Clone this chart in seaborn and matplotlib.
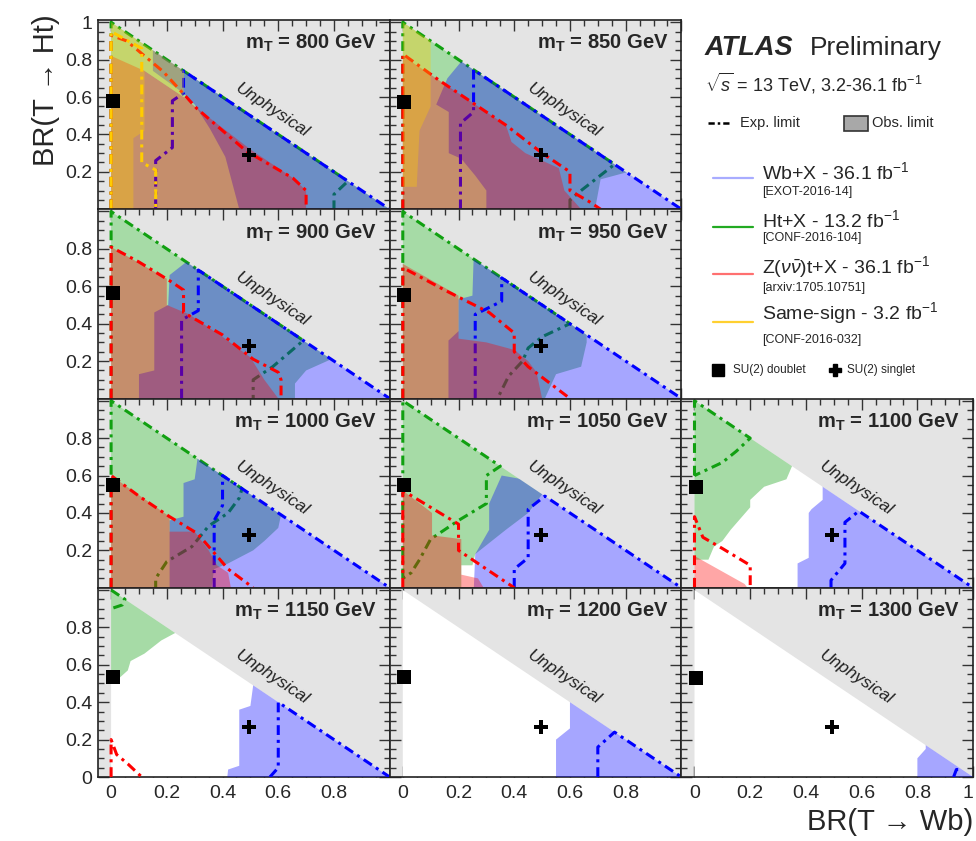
import matplotlib
matplotlib.use("Agg")
import matplotlib.pyplot as plt
import seaborn as sns
from matplotlib.patches import Polygon, Rectangle
from matplotlib.lines import Line2D
from matplotlib.ticker import MultipleLocator, FixedLocator, FuncFormatter

# ---------------- data ----------------
MASSES = [800, 850, 900, 950, 1000, 1050, 1100, 1150, 1200, 1300]
DOUBLET_X = 0.006
DOUBLET_Y = [0.58, 0.575, 0.565, 0.556, 0.55, 0.55, 0.54, 0.536, 0.536, 0.53]
SINGLET_X = 0.495
SINGLET_Y = [0.29, 0.29, 0.28, 0.28, 0.283, 0.28, 0.28, 0.27, 0.27, 0.265]

# Observed excluded regions (polygon vertices, clipped to the physical triangle)
HT_OBS = {
    800: [(-0.1, -0.1), (1.3, -0.1), (-0.1, 1.3)],
    850: [(-0.1, -0.1), (0.69, -0.1), (0.69, 0), (0.71, 0.16), (0.81, 0.2), (0.81, 1.3), (-0.1, 1.3)],
    900: [(-0.1, -0.1), (0.66, -0.1), (0.66, 0.08), (0.7, 0.15), (0.79, 0.21), (0.79, 1.3), (-0.1, 1.3)],
    950: [(-0.1, -0.1), (0.51, -0.1), (0.51, 0), (0.55, 0.13), (0.64, 0.17), (0.66, 0.3), (0.66, 1.3), (-0.1, 1.3)],
    1000: [(-0.1, -0.1), (0.36, -0.1), (0.36, 0), (0.37, 0.1), (0.42, 0.13), (0.51, 0.2), (0.55, 0.25),
           (0.6, 0.32), (0.61, 0.39), (0.61, 1.3), (-0.1, 1.3)],
    1050: [(-0.1, -0.1), (0.21, -0.1), (0.21, 0.12), (0.25, 0.12), (0.26, 0.18), (0.37, 0.31), (0.45, 0.4),
           (0.5, 0.5), (0.5, 1.3), (-0.1, 1.3)],
    1100: [(-0.1, 0.15), (0.05, 0.15), (0.07, 0.22), (0.1, 0.25), (0.13, 0.31), (0.2, 0.43), (0.2, 0.47),
           (0.25, 0.54), (0.33, 0.58), (0.35, 0.65), (0.35, 1.3), (-0.1, 1.3)],
    1150: [(-0.1, 0.52), (0.03, 0.53), (0.06, 0.57), (0.07, 0.62), (0.12, 0.66), (0.18, 0.73), (0.23, 0.77),
           (0.23, 1.3), (-0.1, 1.3)],
}
WB_OBS = {
    800: [(0.15, 1.3), (0.15, 0.74), (0.26, 0.62), (0.3, 0.56), (0.355, 0.43), (0.41, 0.28), (0.46, 0),
          (0.46, -0.1), (1.3, -0.1), (1.3, 1.3)],
    850: [(0.21, 1.3), (0.21, 0.79), (0.16, 0.7), (0.12, 0.56), (0.165, 0.52), (0.165, 0.3), (0.21, 0.27),
          (0.26, 0.18), (0.3, 0.1), (0.3, -0.1), (1.3, -0.1), (1.3, 1.3)],
    900: [(0.27, 1.3), (0.27, 0.73), (0.21, 0.66), (0.205, 0.5), (0.155, 0.46), (0.155, 0.15), (0.1, 0.13),
          (0.1, -0.1), (1.3, -0.1), (1.3, 1.3)],
    950: [(0.254, 1.3), (0.254, 0.74), (0.25, 0.55), (0.2, 0.53), (0.2, 0.36), (0.164, 0.31), (0.164, -0.1),
          (1.3, -0.1), (1.3, 1.3)],
    1000: [(0.31, 1.3), (0.31, 0.69), (0.3, 0.58), (0.26, 0.56), (0.26, 0.38), (0.21, 0.36), (0.21, -0.1),
           (1.3, -0.1), (1.3, 1.3)],
    1050: [(0.255, -0.1), (0.255, 0), (0.26, 0.18), (0.31, 0.31), (0.31, 0.45), (0.355, 0.6), (0.43, 0.58),
           (0.48, 0.54), (0.52, 0.5), (0.52, 1.3), (1.3, 1.3), (1.3, -0.1)],
    1100: [(0.37, -0.1), (0.37, 0.13), (0.41, 0.16), (0.41, 0.4), (0.42, 0.42), (0.46, 0.47), (0.46, 1.3),
           (1.3, 1.3), (1.3, -0.1)],
    1150: [(0.41, -0.1), (0.42, 0.04), (0.46, 0.06), (0.46, 0.36), (0.5, 0.38), (0.51, 0.49), (0.51, 1.3),
           (1.3, 1.3), (1.3, -0.1)],
    1200: [(0.55, -0.1), (0.55, 0.2), (0.6, 0.26), (0.6, 1.3), (1.3, 1.3), (1.3, -0.1)],
    1300: [(0.8, -0.1), (0.8, 0.1), (0.83, 0.15), (0.83, 1.3), (1.3, 1.3), (1.3, -0.1)],
}
ZT_OBS = {
    800: [(-0.1, -0.1), (-0.1, 0.82), (0, 0.82), (0.12, 0.74), (0.26, 0.6), (0.3, 0.55), (0.5, 0.32),
          (0.65, 0.17), (0.7, 0.1), (0.7, -0.1)],
    850: [(-0.1, -0.1), (-0.1, 0.82), (0, 0.82), (0.13, 0.69), (0.26, 0.56), (0.37, 0.45), (0.39, 0.36),
          (0.44, 0.3), (0.56, 0.22), (0.58, 0.1), (0.64, 0), (0.64, -0.1)],
    900: [(-0.1, -0.1), (-0.1, 0.81), (0, 0.81), (0.2, 0.64), (0.2, 0.5), (0.28, 0.45), (0.4, 0.33),
          (0.5, 0.22), (0.55, 0.1), (0.6, 0), (0.6, -0.1)],
    950: [(-0.1, -0.1), (-0.1, 0.72), (0, 0.72), (0.2, 0.55), (0.2, 0.32), (0.3, 0.3), (0.4, 0.26),
          (0.45, 0.2), (0.48, 0.14), (0.5, 0), (0.5, -0.1)],
    1000: [(-0.1, -0.1), (-0.1, 0.6), (0, 0.6), (0.21, 0.38), (0.21, 0.3), (0.3, 0.3), (0.35, 0.2),
           (0.38, 0.12), (0.42, 0.08), (0.43, 0), (0.43, -0.1)],
    1050: [(-0.1, -0.1), (-0.1, 0.52), (0, 0.52), (0.105, 0.4), (0.105, 0.28), (0.21, 0.26), (0.21, 0.07),
           (0.27, 0.05), (0.29, 0), (0.29, -0.1)],
    1100: [(-0.1, -0.1), (-0.1, 0.17), (0, 0.17), (0.06, 0.12), (0.18, 0.02), (0.19, 0), (0.19, -0.1)],
}
SS_OBS = {
    800: [(-0.1, -0.1), (0.08, -0.1), (0.08, 0.38), (0.12, 0.42), (0.12, 0.74), (0.26, 0.6), (0.27, 1.3),
          (-0.1, 1.3)],
    850: [(-0.1, 0.12), (0.05, 0.12), (0.06, 0.42), (0.1, 0.55), (0.1, 1.3), (-0.1, 1.3)],
}

# Expected limit contours
HT_EXP = {
    800: [(0, 0), (0, 1), (0.85, 0.15), (0.8, 0.08), (0.8, 0)],
    850: [(0, 0), (0, 1), (0.76, 0.24), (0.64, 0.1), (0.6, 0.05), (0.6, 0)],
    900: [(0, 0), (0, 1), (0.69, 0.31), (0.58, 0.17), (0.51, 0.1), (0.51, 0)],
    950: [(0, 0), (0, 1), (0.6, 0.4), (0.5, 0.33), (0.45, 0.27), (0.43, 0.2), (0.38, 0.12), (0.34, 0)],
    1000: [(0, 0), (0, 1), (0.47, 0.53), (0.46, 0.48), (0.42, 0.4), (0.35, 0.33), (0.29, 0.22),
           (0.2, 0.14), (0.16, 0.05), (0.16, 0)],
    1050: [(0, 0.05), (0, 1), (0.35, 0.65), (0.3, 0.6), (0.3, 0.45), (0.2, 0.36), (0.1, 0.26),
           (0.06, 0.15), (0.03, 0.08), (0, 0.05)],
    1100: [(0, 0.6), (0, 1), (0.2, 0.8), (0.15, 0.73), (0.1, 0.67), (0, 0.6)],
    1150: [(0, 1), (0.05, 0.95), (0.04, 0.92), (0, 0.9)],
}
WB_EXP = {
    800: [(0.16, 0), (0.16, 0.26), (0.22, 0.33), (0.22, 0.58), (0.26, 0.62), (0.26, 0.74), (1, 0)],
    850: [(0.207, 0), (0.207, 0.46), (0.254, 0.52), (0.254, 0.746), (1, 0)],
    900: [(0.253, 0), (0.253, 0.42), (0.313, 0.47), (0.313, 0.687), (1, 0)],
    950: [(0.26, 0), (0.26, 0.45), (0.355, 0.52), (0.355, 0.645), (1, 0)],
    1000: [(0.37, 0), (0.37, 0.36), (0.4, 0.44), (0.4, 0.6), (1, 0)],
    1050: [(0.4, 0), (0.4, 0.1), (0.45, 0.16), (0.45, 0.42), (0.51, 0.49), (1, 0)],
    1100: [(0.49, 0), (0.49, 0.04), (0.54, 0.13), (0.54, 0.35), (0.59, 0.41), (1, 0)],
    1150: [(0.57, 0), (0.6, 0.05), (0.6, 0.4), (1, 0)],
    1200: [(0.7, 0), (0.7, 0.16), (0.76, 0.24), (1, 0)],
    1300: [(0.93, 0), (0.94, 0.04), (0.96, 0.04)],
}
ZT_EXP = {
    800: [(0, 0), (0, 0.93), (0.056, 0.9), (0.187, 0.736), (0.307, 0.54), (0.486, 0.31), (0.653, 0.166),
          (0.7, 0.1), (0.7, 0)],
    850: [(0, 0), (0, 0.83), (0.13, 0.69), (0.26, 0.56), (0.37, 0.45), (0.5, 0.3), (0.6, 0.2), (0.6, 0.1),
          (0.67, 0.04), (0.71, 0)],
    900: [(0, 0), (0, 0.81), (0.1, 0.73), (0.21, 0.63), (0.26, 0.58), (0.26, 0.46), (0.4, 0.34),
          (0.51, 0.21), (0.6, 0.14), (0.61, 0.1), (0.61, 0)],
    950: [(0, 0), (0, 0.7), (0.15, 0.58), (0.31, 0.46), (0.4, 0.35), (0.4, 0.25), (0.45, 0.17), (0.6, 0)],
    1000: [(0, 0), (0, 0.6), (0.1, 0.49), (0.21, 0.38), (0.31, 0.29), (0.42, 0.1), (0.51, 0)],
    1050: [(0, 0), (0, 0.52), (0.2, 0.34), (0.2, 0.2), (0.26, 0.14), (0.4, 0)],
    1100: [(0, 0), (0, 0.38), (0.03, 0.27), (0.1, 0.21), (0.2, 0.12), (0.2, 0)],
    1150: [(0, 0), (0, 0.2), (0.02, 0.12), (0.06, 0.07), (0.11, 0)],
}
SS_EXP = {
    800: [(0, 0), (0, 0.95), (0.11, 0.86), (0.11, 0.25), (0.16, 0.21), (0.16, 0)],
}

LEGEND_LABELS = [r"Wb+X - 36.1 fb$^{-1}$", r"Ht+X - 13.2 fb$^{-1}$",
                 r"Z($\nu\bar{\nu}$)t+X - 36.1 fb$^{-1}$", r"Same-sign - 3.2 fb$^{-1}$"]
LEGEND_REFS = ["[EXOT-2016-14]", "[CONF-2016-104]", "[arxiv:1705.10751]", "[CONF-2016-032]"]

# ---------------- style ----------------
sns.set_theme(style="ticks")
plt.rcParams["font.family"] = ["Liberation Sans", "DejaVu Sans"]
plt.rcParams["mathtext.fontset"] = "custom"
plt.rcParams["mathtext.rm"] = "Liberation Sans"
plt.rcParams["mathtext.it"] = "Liberation Sans:italic"
plt.rcParams["mathtext.bf"] = "Liberation Sans:bold"

HT_FILL, HT_LINE = "#009900", "#11a011"
WB_FILL, WB_LINE = "#0000ff", "#0000ff"
ZT_FILL, ZT_LINE = "#ff0000", "#ff0000"
SS_FILL, SS_LINE = "#ffcc00", "#ffcc00"
ALPHA = 0.35
DASH = (0, (3.2, 1.6, 1.0, 1.6))
BG = "#e4e4e4"

W, H = 976, 841
fig = plt.figure(figsize=(W / 100, H / 100), dpi=100)

PANEL_POS = [(0, 0), (0, 1), (1, 0), (1, 1), (2, 0), (2, 1), (2, 2), (3, 0), (3, 1), (3, 2)]
L0, T0, PW, PH = 98.0, 20.0, 291.7, 189.25


def fmt(v):
    if abs(v) < 1e-9:
        return "0"
    if abs(v - 1) < 1e-9:
        return "1"
    return f"{v:.1f}"


LAYERS = [(HT_OBS, HT_EXP, HT_FILL, HT_LINE, 2),
          (WB_OBS, WB_EXP, WB_FILL, WB_LINE, 3),
          (ZT_OBS, ZT_EXP, ZT_FILL, ZT_LINE, 4),
          (SS_OBS, SS_EXP, SS_FILL, SS_LINE, 5)]

last_ax = None
for i, m in enumerate(MASSES):
    r, c = PANEL_POS[i]
    left = (L0 + c * PW) / W
    bottom = 1 - (T0 + (r + 1) * PH) / H
    ax = fig.add_axes([left, bottom, PW / W, PH / H])
    ax.set_facecolor(BG)
    tri = Polygon([(0, 0), (1, 0), (0, 1)], closed=True, facecolor="white", edgecolor="none", zorder=1)
    ax.add_patch(tri)

    for obs, exp, fc, lc, z in LAYERS:
        if m in obs:
            xs, ys = zip(*obs[m])
            patches = ax.fill(xs, ys, color=fc, alpha=ALPHA, lw=0, zorder=z)
            for p in patches:
                p.set_clip_path(tri)
        if m in exp:
            xs, ys = zip(*exp[m])
            sns.lineplot(x=list(xs), y=list(ys), sort=False, estimator=None, ax=ax, color=lc,
                         lw=2.2, linestyle=DASH, zorder=z + 0.5)

    sns.scatterplot(x=[DOUBLET_X], y=[DOUBLET_Y[i]], marker="s", s=100, color="black",
                    linewidth=0, ax=ax, zorder=10, clip_on=False)
    sns.scatterplot(x=[SINGLET_X], y=[SINGLET_Y[i]], marker="P", s=90, color="black",
                    linewidth=0, ax=ax, zorder=10)

    ax.text(0.58, 0.53, "Unphysical", rotation=-33.8, ha="center", va="center",
            fontsize=12.5, style="italic", color="#222222", zorder=11)
    ax.text(0.955, 0.875, r"$\mathbf{m_{T}}$ = %d GeV" % m, transform=ax.transAxes,
            ha="right", va="center", fontsize=14.5, fontweight="bold", zorder=11)

    ax.set_xlim(-0.047, 1.0)
    ax.set_ylim(0, 1.012)
    ax.set_xlabel("")
    ax.set_ylabel("")
    ax.xaxis.set_major_locator(FixedLocator([0, 0.2, 0.4, 0.6, 0.8, 1.0]))
    ax.yaxis.set_major_locator(FixedLocator([0, 0.2, 0.4, 0.6, 0.8, 1.0]))
    ax.xaxis.set_minor_locator(MultipleLocator(0.05))
    ax.yaxis.set_minor_locator(MultipleLocator(0.05))
    ax.tick_params(which="both", direction="in", top=True, right=True, width=1.0, color="#333333")
    ax.tick_params(which="major", length=8)
    ax.tick_params(which="minor", length=4)
    for s in ax.spines.values():
        s.set_linewidth(1.2)
        s.set_color("#222222")

    # labels
    if c == 0:
        allowed_y = {0.2, 0.4, 0.6, 0.8}
        if r == 0:
            allowed_y = allowed_y | {1.0}
        if r == 3:
            allowed_y = allowed_y | {0.0}
        ax.yaxis.set_major_formatter(FuncFormatter(
            lambda v, p, a=allowed_y: fmt(v) if any(abs(v - q) < 1e-6 for q in a) else ""))
    else:
        ax.yaxis.set_major_formatter(FuncFormatter(lambda v, p: ""))
    if r == 3:
        allowed_x = {0.0, 0.2, 0.4, 0.6, 0.8} | ({1.0} if c == 2 else set())
        ax.xaxis.set_major_formatter(FuncFormatter(
            lambda v, p, a=allowed_x: fmt(v) if any(abs(v - q) < 1e-6 for q in a) else ""))
    else:
        ax.xaxis.set_major_formatter(FuncFormatter(lambda v, p: ""))
    ax.tick_params(axis="both", which="major", labelsize=14, pad=4)
    ax.tick_params(axis="x", which="major", pad=6)
    leg = ax.get_legend()
    if leg is not None:
        leg.remove()
    last_ax = ax

# axis titles
fig.text(46 / W, 1 - 14 / H, "BR(T \u2192 Ht)", rotation=90, ha="center", va="top", fontsize=21)
fig.text(973 / W, 1 - 822 / H, "BR(T \u2192 Wb)", ha="right", va="center", fontsize=21)


def fx(px):
    return px / W


def fy(py):
    return 1 - py / H


# ATLAS label block
fig.text(fx(705), fy(48), "ATLAS", fontsize=19.5, fontweight="bold", style="italic", va="center")
fig.text(fx(810), fy(48), "Preliminary", fontsize=19, va="center")
fig.text(fx(705), fy(83), r"$\sqrt{s}$ = 13 TeV, 3.2-36.1 fb$^{-1}$", fontsize=13, va="center")

fig.add_artist(Line2D([fx(708), fx(732)], [fy(123), fy(123)], transform=fig.transFigure,
                      color="black", lw=1.8, linestyle=(0, (2.5, 1.2, 1, 1.2))))
fig.text(fx(740), fy(123), "Exp. limit", fontsize=10.5, va="center")
fig.add_artist(Rectangle((fx(844), fy(131)), fx(868) - fx(844), fy(116) - fy(131),
                         transform=fig.transFigure, facecolor="#a8a8a8", edgecolor="#333333", lw=1.2))
fig.text(fx(872), fy(123), "Obs. limit", fontsize=10.5, va="center")

LEG_LINE_COLORS = ["#a8acff", "#22aa22", "#ff7070", "#ffd030"]
LEG_Y = [172, 220, 267, 313]
LEG_SUB_Y = [192, 238, 288, 340]
LEG_LINE_Y = [178, 227, 274, 322]
for lab, ref, col, ty, sy, ly in zip(LEGEND_LABELS, LEGEND_REFS, LEG_LINE_COLORS, LEG_Y, LEG_SUB_Y, LEG_LINE_Y):
    fig.add_artist(Line2D([fx(713), fx(753)], [fy(ly), fy(ly)], transform=fig.transFigure, color=col, lw=1.6))
    fig.text(fx(762), fy(ty), lab, fontsize=14, va="center")
    fig.text(fx(762), fy(sy), ref, fontsize=9, va="center")

fig.add_artist(Line2D([fx(718)], [fy(370)], transform=fig.transFigure, marker="s", markersize=8,
                      color="black", linestyle="none"))
fig.text(fx(733), fy(370), "SU(2) doublet", fontsize=8.5, va="center")
fig.add_artist(Line2D([fx(835)], [fy(370)], transform=fig.transFigure, marker="P", markersize=8,
                      color="black", linestyle="none"))
fig.text(fx(847), fy(370), "SU(2) singlet", fontsize=8.5, va="center")

# keep the final "1" tick label inside the figure
fig.canvas.draw()
for lab in last_ax.get_xticklabels():
    if lab.get_text() == "1":
        lab.set_horizontalalignment("right")

fig.savefig("out.png", dpi=100)
